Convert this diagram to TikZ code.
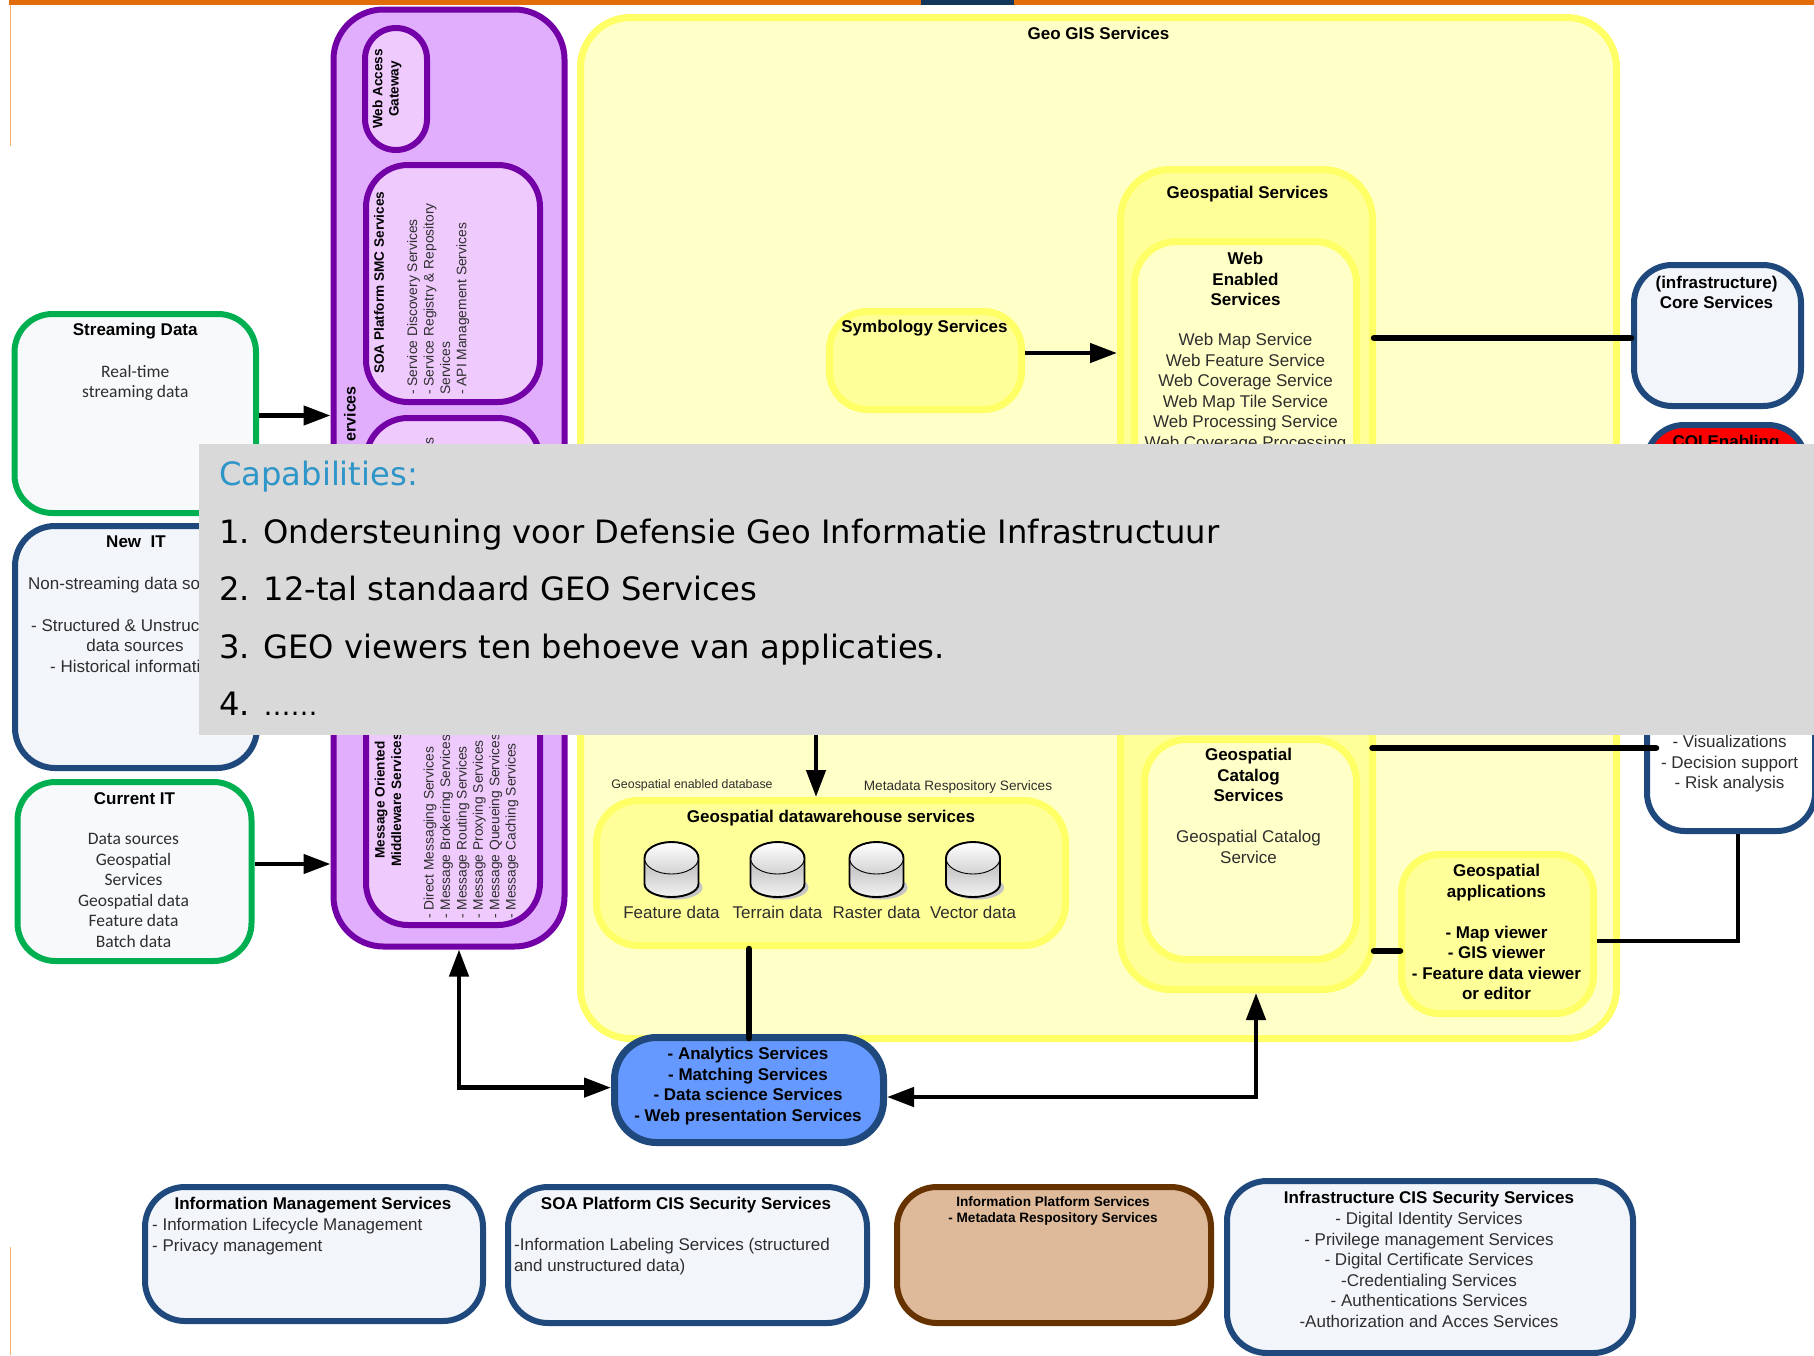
\documentclass[tikz,border=0pt]{standalone}
\usepackage{fontspec}
\setmainfont{Liberation Sans}
\newfontfamily\carlitofont{Carlito}
\newfontfamily\dejafont{DejaVu Sans}
\usetikzlibrary{arrows.meta,positioning}
\definecolor{barorange}{HTML}{E36C0A}
\definecolor{barnavy}{HTML}{12365A}
\definecolor{edgeorange}{HTML}{F4B26B}
\definecolor{navyedge}{HTML}{1F497D}
\definecolor{paleblue}{HTML}{F2F5F9}
\definecolor{greenedge}{HTML}{00B050}
\definecolor{palegreen}{HTML}{F8F9FB}
\definecolor{purpleedge}{HTML}{7300A6}
\definecolor{purpleback}{HTML}{E0AEFC}
\definecolor{purplelight}{HTML}{EFCAFD}
\definecolor{yellowedge}{HTML}{FFFF66}
\definecolor{yellowlight}{HTML}{FFFFC8}
\definecolor{yellowmid}{HTML}{FFFF99}
\definecolor{blueback}{HTML}{6699FF}
\definecolor{brownedge}{HTML}{663300}
\definecolor{brownback}{HTML}{DEBA9B}
\definecolor{covergray}{HTML}{D9D9D9}
\definecolor{capblue}{HTML}{2E95C8}
\tikzset{
  >={Triangle[length=27pt,width=19pt]},
  wh/.style 2 args={minimum width=#1pt, minimum height=#2pt},
  rnd/.style={rounded corners=#1pt},
  gbox/.style ={draw=greenedge, fill=palegreen, line width=6pt, rnd=38},
  nbox/.style ={draw=navyedge, fill=paleblue, line width=6pt, rnd=40},
  ppbox/.style={draw=purpleedge, fill=purplelight, line width=6pt, rnd=42},
  ybox/.style ={draw=yellowedge, fill=yellowmid, line width=7pt, rnd=42},
  tm/.style   ={inner sep=0pt, align=center, text=black!82, font=\fontsize{17}{20.5}\selectfont},
  hd/.style   ={tm, text=black, font=\fontsize{17}{20.5}\selectfont\bfseries},
  ctm/.style  ={tm, font=\carlitofont\fontsize{17.5}{20.5}\selectfont},
  rt/.style   ={rotate=90, inner sep=0pt, align=left, text=black!82, font=\fontsize{13.8}{16.4}\selectfont},
  rh/.style   ={rt, align=center, text=black, font=\fontsize{13.6}{16.4}\selectfont\bfseries},
  arr/.style  ={draw=black, line width=4.5pt},
  bar/.style  ={draw=black, line width=6.5pt, line cap=round},
  pics/dbdisk/.style={code={
    \fill[gray!45] (4,18) ellipse (27pt and 12pt);
    \shade[top color=gray!55, bottom color=gray!10] (-27,-11.5) -- (-27,14.5) arc (180:360:27pt and 13pt) -- (27,-11.5) -- cycle;
    \draw[line width=0.9pt, top color=white, bottom color=gray!35] (0,-11.5) ellipse (27pt and 16pt);
    \draw[line width=1.9pt] (-27,-11.5) -- (-27,14.5) arc (180:360:27pt and 13pt) -- (27,-11.5) arc (0:180:27pt and 16pt);
  }}
}
\begin{document}
\begin{tikzpicture}[x=1pt, y=-1pt]
\useasboundingbox (0,0) rectangle (1814,1355);
\fill[barorange] (9,0) rectangle (1814,5);
\fill[barnavy] (921,0) rectangle (1014,5);
\draw[edgeorange, line width=0.8pt] (10,5) -- (10,146);
\draw[edgeorange, line width=0.8pt] (10,1247) -- (10,1355);

\node[ybox, fill=yellowlight, wh={1036}{1021}, rnd=50] (geogis) at (1098.5,528) {};
\node[hd] (geogistitle) [below=13pt of geogis.north] {Geo GIS Services};

\node[ppbox, fill=purpleback, wh={231}{937}, rnd=50] (soaarea) at (449,478) {};
\node[ppbox, wh={62}{122}, rnd=31] (webgateway) at (396,89) {};
\node[rh] (webgatewaytext) at (387,89) {Web Access\\Gateway};
\node[ppbox, wh={174}{237}] (smc) at (453,283.5) {};
\node[rh, anchor=west] (smctitle) at (379,374) {SOA Platform SMC Services};
\node[rt, anchor=north west] (smctext) at (407,395) {- Service Discovery Services\\- Service Registry \& Repository\\Services\\- API Management Services};
\node[ppbox, wh={174}{164}] (middlebox) at (453,500) {};
\node[rt, anchor=east] (middletext) at (430,437) {s};
\node[rh, anchor=east, font=\fontsize{16}{19}\selectfont\bfseries] (soatitle) at (350,386) {ervices};
\node[ppbox, wh={174}{275}] (message) at (453,787.5) {};
\node[rh] (messagetitle) at (388,800) {Message Oriented\\Middleware Services};
\node[rt, anchor=north west] (messagetext) at (423.5,919) {- Direct Messaging Services\\- Message Brokering Services\\- Message Routing Services\\- Message Proxying Services\\- Message Queueing Services\\- Message Caching Services};

\node[gbox, wh={241.5}{199}] (streaming) at (135.25,413.5) {};
\node[hd] (streamingtitle) [below=12pt of streaming.north] {Streaming Data};
\node[ctm] (streamingtext) [below=54pt of streaming.north] {Real-time\\streaming data};
\node[nbox, wh={242}{242}] (newit) at (136,647) {};
\node[hd] (newittitle) [below=13pt of newit.north] {New\ \ IT};
\node[tm, anchor=west] (newitone) at (28,585) {Non-streaming data so};
\node[tm, anchor=west] (newittwo) at (31,625) {- Structured \& Unstruc};
\node[tm] (newitthree) at (135,645) {data sources};
\node[tm, anchor=west] (newitfour) at (50,666) {- Historical informati};
\node[gbox, wh={234}{179}] (currentit) at (134.5,871.5) {};
\node[hd] (currentittitle) [below=13pt of currentit.north] {Current IT};
\node[ctm, xshift=-1pt] (currentittext) [below=54.5pt of currentit.north] {Data sources\\Geospatial\\Services\\Geospatial data\\Feature data\\Batch data};

\node[ybox, wh={192}{98}, rnd=38] (symbology) at (925.5,360.5) {};
\node[hd] (symbologytext) at (924.5,328) {Symbology Services};
\node[ybox, wh={252}{820}, rnd=50] (geoservices) at (1246.5,579.5) {};
\node[hd, xshift=1pt] (geoservicestitle) [below=20pt of geoservices.north] {Geospatial Services};
\node[ybox, fill=yellowlight, wh={222}{317}] (webenabled) at (1245.5,400) {};
\node[hd] (webenabledtitle) [below=14pt of webenabled.north] {Web\\Enabled\\Services};
\node[tm] (webenabledtext) [below=95pt of webenabled.north] {Web Map Service\\Web Feature Service\\Web Coverage Service\\Web Map Tile Service\\Web Processing Service\\Web Coverage Processing};
\node[ybox, fill=yellowlight, wh={212}{220}] (catalog) at (1250.5,849.5) {};
\node[hd, xshift=-2pt] (catalogtitle) [below=12pt of catalog.north] {Geospatial\\Catalog\\Services};
\node[tm, xshift=-2pt] (catalogtext) [below=94pt of catalog.north] {Geospatial Catalog\\Service};
\node[ybox, wh={192}{159}, rnd=38] (applications) at (1497.5,934) {};
\node[hd, xshift=-1pt] (applicationstext) [below=13pt of applications.north] {Geospatial\\applications\\[20.5pt]- Map viewer\\- GIS viewer\\- Feature data viewer\\or editor};

\node[ybox, wh={469}{145}] (warehouse) at (831,873) {};
\node[hd] (warehousetitle) [below=13pt of warehouse.north] {Geospatial datawarehouse services};
\foreach \dbname/\cx/\dblabel in {feature/671.5/Feature data, terrain/777.5/Terrain data, raster/876.5/Raster data, vector/973/Vector data}{
  \pic (\dbname) at (\cx,869.5) {dbdisk};
  \node[tm] (\dbname text) at (\cx,912.5) {\dblabel};
}
\node[tm, font=\fontsize{12.4}{16}\selectfont] (postgis) at (692,785) {Geospatial enabled database};
\node[tm, font=\fontsize{13.6}{16}\selectfont] (metadata) at (958,787) {Metadata Respository Services};

\node[nbox, wh={167}{141}, rnd=38] (core) at (1717.5,335.5) {};
\node[hd, xshift=-1pt] (coretext) [below=13.5pt of core.north] {(infrastructure)\\Core Services};
\node[nbox, fill=red, wh={160}{150}, rnd=38] (coi) at (1726,500) {};
\node[hd] (coitext) [below=13pt of coi.north] {COI Enabling};
\node[nbox, fill=white, wh={168}{232}, rnd=38] (decision) at (1731,715) {};
\node[tm] (decisiontext) at (1729.5,764) {- Visualizations\\- Decision support\\- Risk analysis};

\node[nbox, fill=blueback, line width=7pt, wh={269}{105}, rnd=42] (analytics) at (749,1090) {};
\node[hd] (analyticstext) at (748,1086) {- Analytics Services\\- Matching Services\\- Data science Services\\- Web presentation Services};

\node[nbox, wh={338}{134}] (infomanagement) at (314,1254) {};
\node[hd] (infomanagementtitle) at (313,1205) {Information Management Services};
\node[tm, anchor=north west, align=left] (infomanagementtext) at (152,1218) {- Information Lifecycle Management\\- Privacy management};
\node[nbox, wh={359}{136}] (soacis) at (687.5,1255) {};
\node[hd] (soacistitle) at (686,1205) {SOA Platform CIS Security Services};
\node[tm, anchor=north west, align=left] (soacistext) at (514,1238) {-Information Labeling Services (structured\\and unstructured data)};
\node[nbox, draw=brownedge, fill=brownback, wh={314}{136}] (infoplatform) at (1054,1255) {};
\node[hd, font=\fontsize{13.6}{16.5}\selectfont\bfseries] (infoplatformtext) at (1053,1211) {Information Platform Services\\- Metadata Respository Services};
\node[nbox, wh={406}{172}] (infracis) at (1430,1267) {};
\node[hd] (infracistitle) at (1429,1199) {Infrastructure CIS Security Services};
\node[tm] (infracistext) at (1429,1270) {- Digital Identity Services\\- Privilege management Services\\- Digital Certificate Services\\-Credentialing Services\\- Authentications Services\\-Authorization and Acces Services};

\coordinate (hiddenfeed) at (816,700);
\draw[arr,->] ([yshift=-2pt]streaming.east) -- ([yshift=-2pt]soaarea.west |- streaming.east);
\draw[arr,->] ([yshift=7.5pt]currentit.east) -- ([yshift=7.5pt]soaarea.west |- currentit.east);
\draw[arr,->] ([yshift=7.5pt]symbology.east) -- ([yshift=7.5pt]geoservices.west |- symbology.east);
\draw[arr,->] (hiddenfeed) -- (hiddenfeed |- warehouse.north);
\draw[arr,<->] ([xshift=10pt]soaarea.south) |- ([yshift=2.4pt]analytics.west);
\draw[arr,<->] ([yshift=-7pt]analytics.east) -| ([xshift=9.5pt]geoservices.south);
\draw[bar] (analytics.north |- warehouse.south) -- ([yshift=-4pt]analytics.north);
\draw[bar] ([shift={(-2pt,-2.5pt)}]geoservices.east |- core.west) -- ([yshift=-2.5pt]core.west);
\draw[bar] ([shift={(12.5pt,101.5pt)}]catalog.east) -- ([shift={(12pt,-33pt)}]decision.west);
\draw[bar] ([shift={(-2pt,-17pt)}]geoservices.east |- applications.west) -- ([shift={(2pt,-17pt)}]applications.west);
\draw[arr, line width=4pt] ([yshift=-7pt]applications.east) -| ([xshift=7pt]decision.south);

\node[fill=covergray, inner sep=0pt, wh={1615}{291}] (capabilities) at (1006.5,589.5) {};
\node[inner sep=0pt, align=left, anchor=north west, font=\dejafont\fontsize{32.2}{57.5}\selectfont] (capabilitiestext) at (219,461) {\textcolor{capblue}{Capabilities:}\\1. Ondersteuning voor Defensie Geo Informatie Infrastructuur\\2. 12-tal standaard GEO Services\\3. GEO viewers ten behoeve van applicaties.\\4. {\fontsize{27}{57.5}\selectfont ……}};
\end{tikzpicture}
\end{document}
